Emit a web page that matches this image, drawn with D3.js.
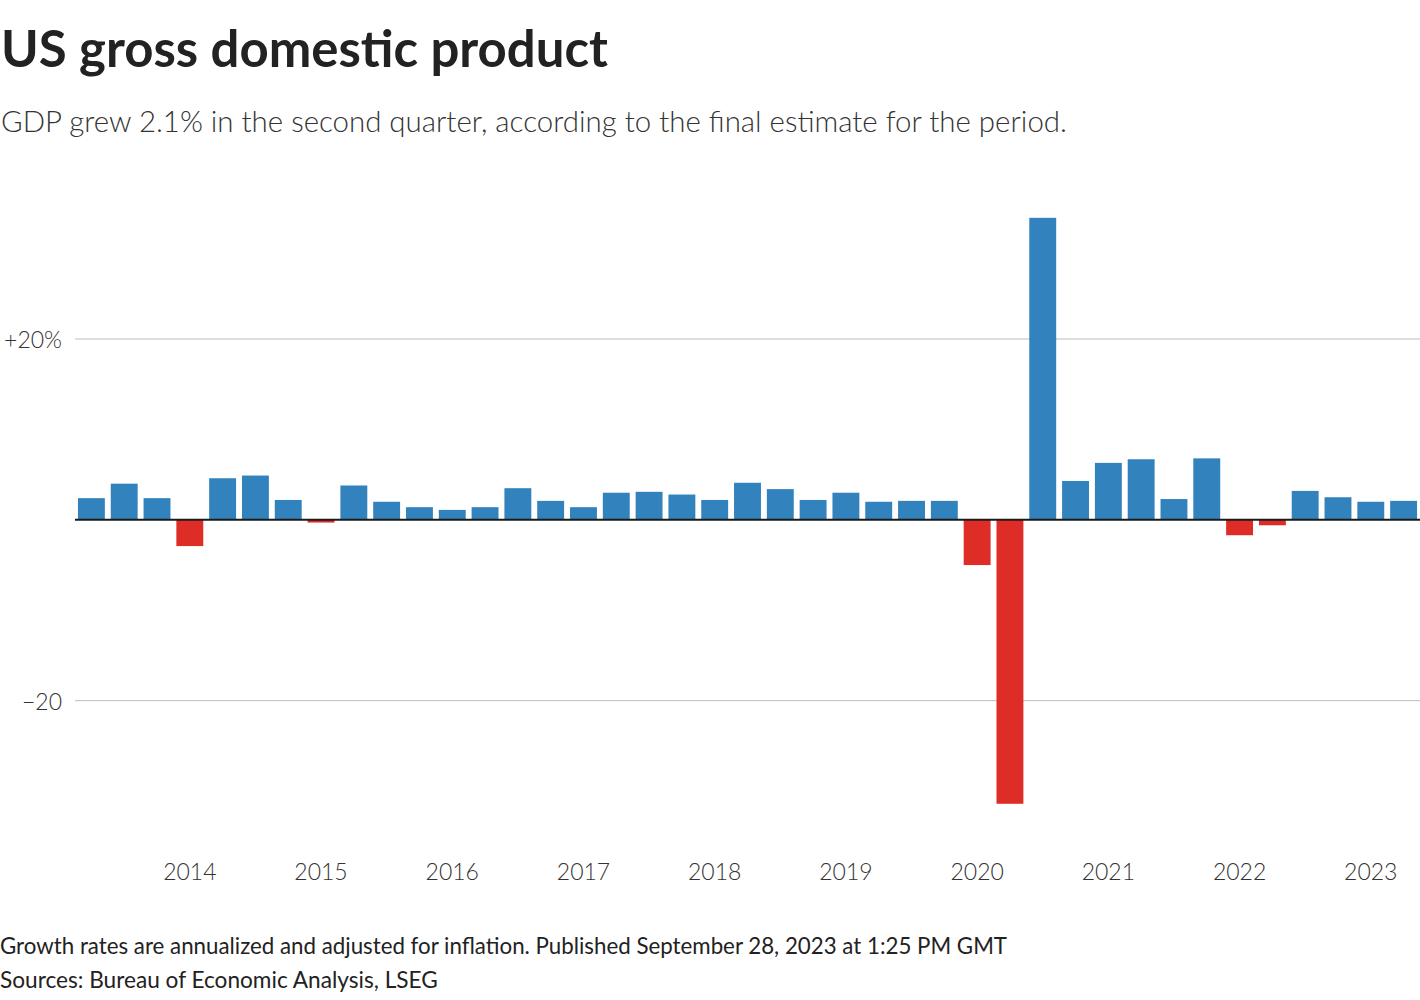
<!DOCTYPE html>
<html><head><meta charset="utf-8">
<script src="https://cdn.jsdelivr.net/npm/d3@7"></script>
<style>
html,body{margin:0;padding:0;background:#fff;}
svg{display:block;}
</style></head>
<body>
<svg id="chart" width="1420" height="1000"></svg>
<script>
const quarters = ["2013Q2","2013Q3","2013Q4","2014Q1","2014Q2","2014Q3","2014Q4",
"2015Q1","2015Q2","2015Q3","2015Q4","2016Q1","2016Q2","2016Q3","2016Q4",
"2017Q1","2017Q2","2017Q3","2017Q4","2018Q1","2018Q2","2018Q3","2018Q4",
"2019Q1","2019Q2","2019Q3","2019Q4","2020Q1","2020Q2","2020Q3","2020Q4",
"2021Q1","2021Q2","2021Q3","2021Q4","2022Q1","2022Q2","2022Q3","2022Q4",
"2023Q1","2023Q2"];
const growth = [2.4,4.0,2.4,-2.9,4.6,4.9,2.2,
-0.3,3.8,2.0,1.4,1.1,1.4,3.5,2.1,
1.4,3.0,3.1,2.8,2.2,4.1,3.4,2.2,
3.0,2.0,2.1,2.1,-5.0,-31.4,33.4,4.3,
6.3,6.7,2.3,6.8,-1.7,-0.6,3.2,2.5,
2.0,2.1];
const yTicks = [-20, 20];
const yTickLabels = ["\u221220", "+20%"];
const yearLabels = ["2014","2015","2016","2017","2018","2019","2020","2021","2022","2023"];
const titleText = "US gross domestic product";
const subtitleText = "GDP grew 2.1% in the second quarter, according to the final estimate for the period.";
const noteText = "Growth rates are annualized and adjusted for inflation. Published September 28, 2023 at 1:25 PM GMT";
const sourceText = "Sources: Bureau of Economic Analysis, LSEG";

const svg = d3.select("#chart");
const FONT = "Lato, 'Source Sans Pro', 'Noto Sans', sans-serif";

function fitText(sel, target) {
  const node = sel.node();
  const fs = parseFloat(sel.attr("font-size"));
  const w = node.getComputedTextLength();
  if (w > 0) sel.attr("font-size", (fs * target / w).toFixed(2));
}

const title = svg.append("text").attr("x", 1).attr("y", 67)
  .attr("font-family", FONT).attr("font-weight", 700).attr("font-size", 48)
  .attr("fill", "#222").text(titleText);
fitText(title, 607);

const sub = svg.append("text").attr("x", 1).attr("y", 132)
  .attr("font-family", FONT).attr("font-weight", 300).attr("font-size", 29)
  .attr("fill", "#333").text(subtitleText);
fitText(sub, 1066);

const x = d3.scaleBand().domain(quarters).range([75, 1420])
  .paddingInner(0.18).paddingOuter(0.09);
const y = d3.scaleLinear().domain([-20, 20]).range([700.7, 339]);

// gridlines
svg.append("g").selectAll("line").data(yTicks).join("line")
  .attr("x1", 75).attr("x2", 1420)
  .attr("y1", d => y(d)).attr("y2", d => y(d))
  .attr("stroke", "#bdbdbd").attr("stroke-width", 1);

svg.append("g").selectAll("text").data(yTicks).join("text")
  .attr("x", 62).attr("y", d => y(d) + 9)
  .attr("text-anchor", "end")
  .attr("font-family", FONT).attr("font-weight", 300).attr("font-size", 23)
  .attr("fill", "#333")
  .text((d, i) => yTickLabels[i]);

// bars
svg.append("g").selectAll("rect").data(growth).join("rect")
  .attr("x", (d, i) => x(quarters[i]))
  .attr("width", x.bandwidth())
  .attr("y", d => d >= 0 ? y(d) : y(0))
  .attr("height", d => Math.abs(y(d) - y(0)))
  .attr("fill", d => d >= 0 ? "#3182bd" : "#de2d26");

// zero line
svg.append("line").attr("x1", 75).attr("x2", 1420)
  .attr("y1", y(0)).attr("y2", y(0))
  .attr("stroke", "#1a1a1a").attr("stroke-width", 2);

// x axis labels at Q1 of each year
const xAxis = d3.axisBottom(x)
  .tickValues(yearLabels.map(yr => yr + "Q1"))
  .tickFormat(q => q.slice(0, 4))
  .tickSize(0).tickPadding(0);
const xg = svg.append("g").attr("transform", "translate(0,864)").call(xAxis);
xg.select(".domain").remove();
xg.selectAll("text")
  .attr("font-family", FONT).attr("font-weight", 300).attr("font-size", 23)
  .attr("fill", "#333").attr("dy", "0.71em").attr("y", 0);

const note = svg.append("text").attr("x", 0).attr("y", 954)
  .attr("font-family", FONT).attr("font-weight", 400).attr("font-size", 21)
  .attr("fill", "#222").text(noteText);
fitText(note, 1007);
const src = svg.append("text").attr("x", 0).attr("y", 988)
  .attr("font-family", FONT).attr("font-weight", 400).attr("font-size", 21)
  .attr("fill", "#222").text(sourceText);
fitText(src, 438);
</script>
</body></html>
